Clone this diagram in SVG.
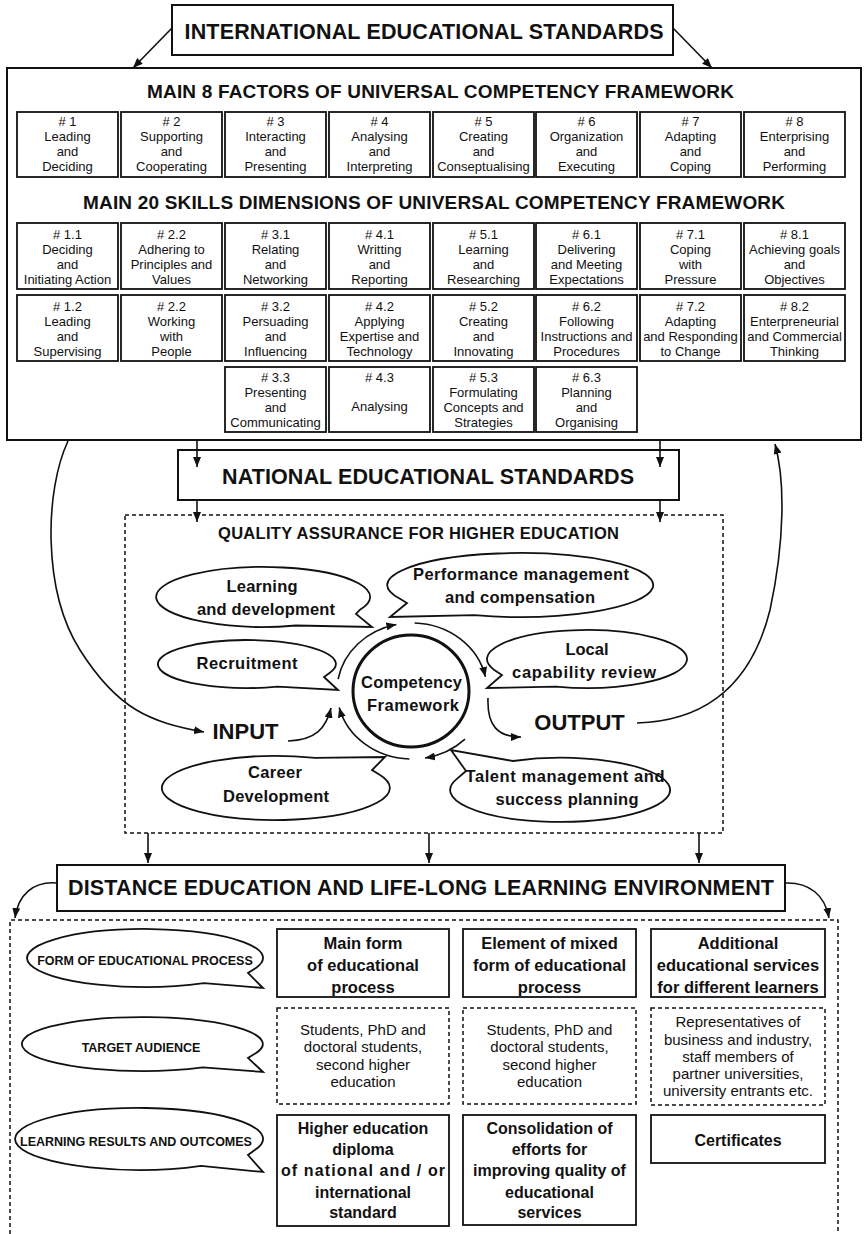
<svg xmlns="http://www.w3.org/2000/svg" width="864" height="1234" viewBox="0 0 864 1234">
<style>
text{font-family:"Liberation Sans",Arial,Helvetica,sans-serif;fill:#111;text-anchor:middle}
.box{fill:#fff;stroke:#111;stroke-width:2}
.cell{fill:#fff;stroke:#111;stroke-width:1.8}
.dash{fill:none;stroke:#111;stroke-width:1.5;stroke-dasharray:4 3}
.dcell{fill:#fff;stroke:#111;stroke-width:1.5;stroke-dasharray:4 3}
.bub{fill:#fff;stroke:#111;stroke-width:1.8}
.ln{fill:none;stroke:#111;stroke-width:1.6}
.ring{fill:#fff;stroke:#111;stroke-width:3}
.g{font-size:13px}
.title{font-weight:bold;font-size:21.5px}
.sub{font-weight:bold;font-size:19px}
.bt{font-weight:bold;font-size:16.5px}
.io{font-weight:bold;font-size:22px}
.lt{font-weight:bold;font-size:12.5px}
.ct{font-weight:bold;font-size:16.5px}
.rb{font-weight:bold;font-size:16px}
.rt{font-size:15px}
</style>
<defs>
<marker id="ah" viewBox="0 0 10 8" refX="10" refY="4" markerWidth="10" markerHeight="8" markerUnits="userSpaceOnUse" orient="auto">
<path d="M0,0 L10,4 L0,8 z" fill="#111"/>
</marker>
</defs>
<rect width="864" height="1234" fill="#fff"/>

<!-- top level standard -->
<g id="international">
<rect class="box" x="172" y="5" width="501" height="50"/>
<text class="title" x="424" y="38.5" textLength="479">INTERNATIONAL EDUCATIONAL STANDARDS</text>
</g>

<!-- universal competency framework -->
<g id="framework">
<rect class="box" x="7" y="68" width="854" height="372"/>
<text class="sub" x="440.5" y="97.5" textLength="587">MAIN 8 FACTORS OF UNIVERSAL COMPETENCY FRAMEWORK</text>
<text class="sub" x="434" y="208.5" textLength="702">MAIN 20 SKILLS DIMENSIONS OF UNIVERSAL COMPETENCY FRAMEWORK</text>
</g>

<!-- 8 factors -->
<g id="f1"><rect class="cell" x="17" y="112" width="101" height="65"/><text class="g"><tspan x="67.5" y="126"># 1</tspan><tspan x="67.5" y="141">Leading</tspan><tspan x="67.5" y="156">and</tspan><tspan x="67.5" y="171">Deciding</tspan></text></g>
<g id="f2"><rect class="cell" x="121" y="112" width="101" height="65"/><text class="g"><tspan x="171.5" y="126"># 2</tspan><tspan x="171.5" y="141">Supporting</tspan><tspan x="171.5" y="156">and</tspan><tspan x="171.5" y="171">Cooperating</tspan></text></g>
<g id="f3"><rect class="cell" x="225" y="112" width="101" height="65"/><text class="g"><tspan x="275.5" y="126"># 3</tspan><tspan x="275.5" y="141">Interacting</tspan><tspan x="275.5" y="156">and</tspan><tspan x="275.5" y="171">Presenting</tspan></text></g>
<g id="f4"><rect class="cell" x="329" y="112" width="101" height="65"/><text class="g"><tspan x="379.5" y="126"># 4</tspan><tspan x="379.5" y="141">Analysing</tspan><tspan x="379.5" y="156">and</tspan><tspan x="379.5" y="171">Interpreting</tspan></text></g>
<g id="f5"><rect class="cell" x="433" y="112" width="101" height="65"/><text class="g"><tspan x="483.5" y="126"># 5</tspan><tspan x="483.5" y="141">Creating</tspan><tspan x="483.5" y="156">and</tspan><tspan x="483.5" y="171">Conseptualising</tspan></text></g>
<g id="f6"><rect class="cell" x="536" y="112" width="101" height="65"/><text class="g"><tspan x="586.5" y="126"># 6</tspan><tspan x="586.5" y="141">Organization</tspan><tspan x="586.5" y="156">and</tspan><tspan x="586.5" y="171">Executing</tspan></text></g>
<g id="f7"><rect class="cell" x="640" y="112" width="101" height="65"/><text class="g"><tspan x="690.5" y="126"># 7</tspan><tspan x="690.5" y="141">Adapting</tspan><tspan x="690.5" y="156">and</tspan><tspan x="690.5" y="171">Coping</tspan></text></g>
<g id="f8"><rect class="cell" x="744" y="112" width="101" height="65"/><text class="g"><tspan x="794.5" y="126"># 8</tspan><tspan x="794.5" y="141">Enterprising</tspan><tspan x="794.5" y="156">and</tspan><tspan x="794.5" y="171">Performing</tspan></text></g>

<!-- 20 skill dimensions, row 1 -->
<g id="s1-1"><rect class="cell" x="17" y="223" width="101" height="66"/><text class="g"><tspan x="67.5" y="238.5"># 1.1</tspan><tspan x="67.5" y="253.5">Deciding</tspan><tspan x="67.5" y="268.5">and</tspan><tspan x="67.5" y="283.5">Initiating Action</tspan></text></g>
<g id="s2-1"><rect class="cell" x="121" y="223" width="101" height="66"/><text class="g"><tspan x="171.5" y="238.5"># 2.2</tspan><tspan x="171.5" y="253.5">Adhering to</tspan><tspan x="171.5" y="268.5">Principles and</tspan><tspan x="171.5" y="283.5">Values</tspan></text></g>
<g id="s3-1"><rect class="cell" x="225" y="223" width="101" height="66"/><text class="g"><tspan x="275.5" y="238.5"># 3.1</tspan><tspan x="275.5" y="253.5">Relating</tspan><tspan x="275.5" y="268.5">and</tspan><tspan x="275.5" y="283.5">Networking</tspan></text></g>
<g id="s4-1"><rect class="cell" x="329" y="223" width="101" height="66"/><text class="g"><tspan x="379.5" y="238.5"># 4.1</tspan><tspan x="379.5" y="253.5">Writting</tspan><tspan x="379.5" y="268.5">and</tspan><tspan x="379.5" y="283.5">Reporting</tspan></text></g>
<g id="s5-1"><rect class="cell" x="433" y="223" width="101" height="66"/><text class="g"><tspan x="483.5" y="238.5"># 5.1</tspan><tspan x="483.5" y="253.5">Learning</tspan><tspan x="483.5" y="268.5">and</tspan><tspan x="483.5" y="283.5">Researching</tspan></text></g>
<g id="s6-1"><rect class="cell" x="536" y="223" width="101" height="66"/><text class="g"><tspan x="586.5" y="238.5"># 6.1</tspan><tspan x="586.5" y="253.5">Delivering</tspan><tspan x="586.5" y="268.5">and Meeting</tspan><tspan x="586.5" y="283.5">Expectations</tspan></text></g>
<g id="s7-1"><rect class="cell" x="640" y="223" width="101" height="66"/><text class="g"><tspan x="690.5" y="238.5"># 7.1</tspan><tspan x="690.5" y="253.5">Coping</tspan><tspan x="690.5" y="268.5">with</tspan><tspan x="690.5" y="283.5">Pressure</tspan></text></g>
<g id="s8-1"><rect class="cell" x="744" y="223" width="101" height="66"/><text class="g"><tspan x="794.5" y="238.5"># 8.1</tspan><tspan x="794.5" y="253.5">Achieving goals</tspan><tspan x="794.5" y="268.5">and</tspan><tspan x="794.5" y="283.5">Objectives</tspan></text></g>

<!-- row 2 -->
<g id="s1-2"><rect class="cell" x="17" y="295" width="101" height="66"/><text class="g"><tspan x="67.5" y="310.5"># 1.2</tspan><tspan x="67.5" y="325.5">Leading</tspan><tspan x="67.5" y="340.5">and</tspan><tspan x="67.5" y="355.5">Supervising</tspan></text></g>
<g id="s2-2"><rect class="cell" x="121" y="295" width="101" height="66"/><text class="g"><tspan x="171.5" y="310.5"># 2.2</tspan><tspan x="171.5" y="325.5">Working</tspan><tspan x="171.5" y="340.5">with</tspan><tspan x="171.5" y="355.5">People</tspan></text></g>
<g id="s3-2"><rect class="cell" x="225" y="295" width="101" height="66"/><text class="g"><tspan x="275.5" y="310.5"># 3.2</tspan><tspan x="275.5" y="325.5">Persuading</tspan><tspan x="275.5" y="340.5">and</tspan><tspan x="275.5" y="355.5">Influencing</tspan></text></g>
<g id="s4-2"><rect class="cell" x="329" y="295" width="101" height="66"/><text class="g"><tspan x="379.5" y="310.5"># 4.2</tspan><tspan x="379.5" y="325.5">Applying</tspan><tspan x="379.5" y="340.5">Expertise and</tspan><tspan x="379.5" y="355.5">Technology</tspan></text></g>
<g id="s5-2"><rect class="cell" x="433" y="295" width="101" height="66"/><text class="g"><tspan x="483.5" y="310.5"># 5.2</tspan><tspan x="483.5" y="325.5">Creating</tspan><tspan x="483.5" y="340.5">and</tspan><tspan x="483.5" y="355.5">Innovating</tspan></text></g>
<g id="s6-2"><rect class="cell" x="536" y="295" width="101" height="66"/><text class="g"><tspan x="586.5" y="310.5"># 6.2</tspan><tspan x="586.5" y="325.5">Following</tspan><tspan x="586.5" y="340.5">Instructions and</tspan><tspan x="586.5" y="355.5">Procedures</tspan></text></g>
<g id="s7-2"><rect class="cell" x="640" y="295" width="101" height="66"/><text class="g"><tspan x="690.5" y="310.5"># 7.2</tspan><tspan x="690.5" y="325.5">Adapting</tspan><tspan x="690.5" y="340.5">and Responding</tspan><tspan x="690.5" y="355.5">to Change</tspan></text></g>
<g id="s8-2"><rect class="cell" x="744" y="295" width="101" height="66"/><text class="g"><tspan x="794.5" y="310.5"># 8.2</tspan><tspan x="794.5" y="325.5">Enterpreneurial</tspan><tspan x="794.5" y="340.5">and Commercial</tspan><tspan x="794.5" y="355.5">Thinking</tspan></text></g>

<!-- row 3 -->
<g id="s3-3"><rect class="cell" x="225" y="367" width="101" height="65"/><text class="g"><tspan x="275.5" y="381.5"># 3.3</tspan><tspan x="275.5" y="396.5">Presenting</tspan><tspan x="275.5" y="411.5">and</tspan><tspan x="275.5" y="426.5">Communicating</tspan></text></g>
<g id="s4-3"><rect class="cell" x="329" y="367" width="101" height="65"/><text class="g"><tspan x="379.5" y="381.5"># 4.3</tspan><tspan x="379.5" y="410.5">Analysing</tspan></text></g>
<g id="s5-3"><rect class="cell" x="433" y="367" width="101" height="65"/><text class="g"><tspan x="483.5" y="381.5"># 5.3</tspan><tspan x="483.5" y="396.5">Formulating</tspan><tspan x="483.5" y="411.5">Concepts and</tspan><tspan x="483.5" y="426.5">Strategies</tspan></text></g>
<g id="s6-3"><rect class="cell" x="536" y="367" width="101" height="65"/><text class="g"><tspan x="586.5" y="381.5"># 6.3</tspan><tspan x="586.5" y="396.5">Planning</tspan><tspan x="586.5" y="411.5">and</tspan><tspan x="586.5" y="426.5">Organising</tspan></text></g>

<!-- national level -->
<g id="national">
<rect class="box" x="178" y="450" width="501" height="50"/>
<text class="title" x="428" y="483.5" textLength="412">NATIONAL EDUCATIONAL STANDARDS</text>
</g>

<!-- quality assurance -->
<g id="quality">
<rect class="dash" x="125" y="515" width="598" height="318"/>
<text x="418.5" y="539" font-weight="bold" font-size="16.5" textLength="401">QUALITY ASSURANCE FOR HIGHER EDUCATION</text>
</g>

<g id="learning-dev">
<path class="bub" d="M296,625.5 A107,30 0 1 1 360,609.7 L356,614 L372,627 Z"/>
<text class="bt" x="262" y="592" textLength="71">Learning</text>
<text class="bt" x="266" y="615" textLength="138">and development</text>
</g>
<g id="performance">
<path class="bub" d="M399.5,598.5 A133,32 0 1 1 474.5,615.1 L390,617 L407,603 Z"/>
<text class="bt" x="521" y="580" textLength="216">Performance management</text>
<text class="bt" x="520" y="603" textLength="150">and compensation</text>
</g>
<g id="recruitment">
<path class="bub" d="M277.4,686.6 A89,24 0 1 1 329.5,673 L324,677 L338,690 Z"/>
<text class="bt" x="247" y="669" textLength="101">Recruitment</text>
</g>
<g id="local-review">
<path class="bub" d="M494.3,669.9 A100,29 0 1 1 556.1,686.6 L487,688 L502,675 Z"/>
<text class="bt" x="587" y="655">Local</text>
<text class="bt" x="584" y="678" textLength="144">capability review</text>
</g>
<g id="career">
<path class="bub" d="M315,757.9 A114,32 0 1 0 379.3,774.5 L372,770 L385,757 Z"/>
<text class="bt" x="275" y="778" textLength="54">Career</text>
<text class="bt" x="276" y="802" textLength="106">Development</text>
</g>
<g id="talent">
<path class="bub" d="M513,761 A110,32 0 1 1 456.6,779.1 L466,771 L451,750 Z"/>
<text class="bt" x="565" y="782" textLength="199">Talent management and</text>
<text class="bt" x="567" y="805" textLength="143">success planning</text>
</g>
<g id="competency">
<ellipse class="ring" cx="411" cy="691" rx="58" ry="56"/>
<text class="bt" x="411.5" y="688" textLength="101">Competency</text>
<text class="bt" x="413" y="711" textLength="92">Framework</text>
</g>
<g id="input"><text class="io" x="245.5" y="739">INPUT</text></g>
<g id="output"><text class="io" x="579.5" y="730">OUTPUT</text></g>

<!-- distance and life-long learning -->
<g id="distance">
<rect class="box" x="57" y="865" width="728" height="46"/>
<text x="421" y="895" font-weight="bold" font-size="21.5" textLength="706">DISTANCE EDUCATION AND LIFE-LONG LEARNING ENVIRONMENT</text>
</g>
<g id="environment">
<path class="dash" d="M10,1234 V920 H838 V1234"/>
</g>

<g id="form-label">
<path class="bub" d="M204,983.1 A118,29 0 1 1 255.9,967.9 L248,973 L263,988 Z"/>
<text class="lt" x="145" y="964.5">FORM OF EDUCATIONAL PROCESS</text>
</g>
<g id="audience-label">
<path class="bub" d="M202.8,1067.4 A120.5,27 0 1 1 255.7,1053.2 L248,1058 L263,1072 Z"/>
<text class="lt" x="141" y="1051.5">TARGET AUDIENCE</text>
</g>
<g id="results-label">
<path class="bub" d="M201,1165.8 A124,31 0 1 1 255.5,1149.6 L248,1155 L263,1172 Z"/>
<text class="lt" x="136" y="1146">LEARNING RESULTS AND OUTCOMES</text>
</g>

<g id="main-form">
<rect class="cell" x="277" y="929" width="172" height="68"/>
<text class="ct"><tspan x="363" y="949">Main form</tspan><tspan x="363" y="971">of educational</tspan><tspan x="363" y="993">process</tspan></text>
</g>
<g id="mixed-form">
<rect class="cell" x="463" y="929" width="173" height="68"/>
<text class="ct"><tspan x="549.5" y="949">Element of mixed</tspan><tspan x="549.5" y="971">form of educational</tspan><tspan x="549.5" y="993">process</tspan></text>
</g>
<g id="additional-services">
<rect class="cell" x="651" y="929" width="174" height="68"/>
<text class="ct"><tspan x="738" y="949">Additional</tspan><tspan x="738" y="971">educational services</tspan><tspan x="738" y="993">for different learners</tspan></text>
</g>

<g id="audience-main">
<rect class="dcell" x="277" y="1008" width="172" height="96"/>
<text class="rt"><tspan x="363" y="1035">Students, PhD and</tspan><tspan x="363" y="1052">doctoral students,</tspan><tspan x="363" y="1070">second higher</tspan><tspan x="363" y="1087">education</tspan></text>
</g>
<g id="audience-mixed">
<rect class="dcell" x="463" y="1008" width="173" height="96"/>
<text class="rt"><tspan x="549.5" y="1035">Students, PhD and</tspan><tspan x="549.5" y="1052">doctoral students,</tspan><tspan x="549.5" y="1070">second higher</tspan><tspan x="549.5" y="1087">education</tspan></text>
</g>
<g id="audience-additional">
<rect class="dcell" x="651" y="1008" width="174" height="97"/>
<text class="rt"><tspan x="738" y="1027">Representatives of</tspan><tspan x="738" y="1045">business and industry,</tspan><tspan x="738" y="1062">staff members of</tspan><tspan x="738" y="1079">partner universities,</tspan><tspan x="738" y="1096">university entrants etc.</tspan></text>
</g>

<g id="diploma">
<rect class="cell" x="277" y="1115" width="172" height="111"/>
<text class="rb"><tspan x="363" y="1134">Higher education</tspan><tspan x="363" y="1155">diploma</tspan><tspan x="363" y="1176" textLength="164">of national and / or</tspan><tspan x="363" y="1198">international</tspan><tspan x="363" y="1218">standard</tspan></text>
</g>
<g id="consolidation">
<rect class="cell" x="463" y="1115" width="173" height="110"/>
<text class="rb"><tspan x="549.5" y="1134">Consolidation of</tspan><tspan x="549.5" y="1155">efforts for</tspan><tspan x="549.5" y="1176">improving quality of</tspan><tspan x="549.5" y="1198">educational</tspan><tspan x="549.5" y="1218">services</tspan></text>
</g>
<g id="certificates">
<rect class="cell" x="651" y="1115" width="174" height="48"/>
<text class="rb" x="738" y="1146">Certificates</text>
</g>

<!-- connectors -->
<g id="connectors" class="ln" marker-end="url(#ah)">
<path class="ln" d="M172,28 L133,68"/>
<path class="ln" d="M673,28 L712,68"/>
<path class="ln" d="M197,440 V467"/>
<path class="ln" d="M660,440 V467"/>
<path class="ln" d="M197,500 V522"/>
<path class="ln" d="M660,500 V522"/>
<path class="ln" d="M68,441 C45,490 42,590 80,650 S150,722 204,732"/>
<path class="ln" d="M637,723 C700,721 750,690 770,610 C785,540 785,480 775,444"/>
<path class="ln" d="M338.1,679.2 A75,68 0 0 1 396.4,624.5"/>
<path class="ln" d="M414.6,623 A75,68 0 0 1 485.4,676.9"/>
<path class="ln" d="M488,698 C487,725 497,737 521,737"/>
<path class="ln" d="M465,739.1 A75,68 0 0 1 425,758"/>
<path class="ln" d="M409.4,759 A75,68 0 0 1 339.2,707.5"/>
<path class="ln" d="M288,741 C316,740 326,728 331,708"/>
<path class="ln" d="M148,833 V863"/>
<path class="ln" d="M429,833 V863"/>
<path class="ln" d="M699,833 V863"/>
<path class="ln" d="M57,883 C33,881 18,895 15,918"/>
<path class="ln" d="M785,883 C809,882 825,895 829,918"/>
</g>
</svg>
